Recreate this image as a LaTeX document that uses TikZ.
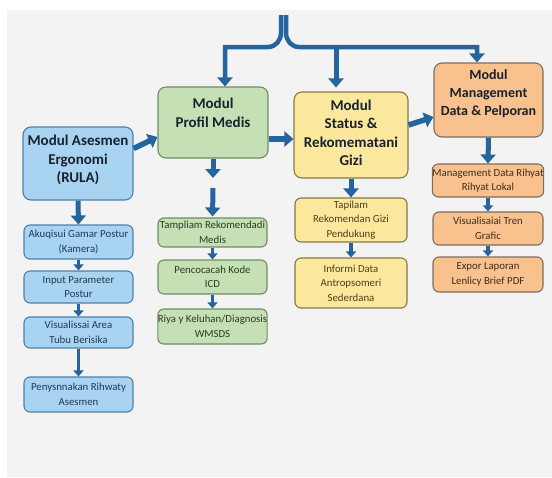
\documentclass[tikz,border=0pt]{standalone}
\usepackage{fontspec}
\setmainfont{Carlito}
\usetikzlibrary{arrows.meta}
\definecolor{bgc}{HTML}{F3F3F3}
\definecolor{arr}{RGB}{38,100,160}
\definecolor{bfill}{HTML}{A8D4F1}
\definecolor{bdraw}{HTML}{4F7FA6}
\definecolor{gfill}{HTML}{C6E0B5}
\definecolor{gdraw}{HTML}{6F8C62}
\definecolor{yfill}{HTML}{FBE89C}
\definecolor{ydraw}{HTML}{85784A}
\definecolor{ofill}{HTML}{F8C18E}
\definecolor{odraw}{HTML}{7D6D60}
\definecolor{titc}{HTML}{18222E}
\definecolor{btxt}{HTML}{203A55}
\definecolor{gtxt}{HTML}{263C24}
\definecolor{ytxt}{HTML}{4E4018}
\definecolor{otxt}{HTML}{402C1E}
\tikzset{
  box/.style={rectangle, rounded corners=6pt, line width=1.1pt, inner sep=0pt, align=center},
  mainbox/.style={box, rounded corners=8pt},
  maintext/.style={font=\fontsize{15}{18.5}\selectfont\bfseries, text=titc, align=center, inner sep=0pt},
  subtext/.style={font=\fontsize{10.8}{14.5}\selectfont},
  bluebox/.style={box, fill=bfill, draw=bdraw, text=btxt, subtext},
  greenbox/.style={box, fill=gfill, draw=gdraw, text=gtxt, subtext},
  yellowbox/.style={box, fill=yfill, draw=ydraw, text=ytxt, subtext},
  orangebox/.style={box, fill=ofill, draw=odraw, text=otxt, subtext},
  thickarr/.style={draw=arr, line width=5pt, -{Triangle[length=9pt,width=15pt]}},
  thinarr/.style={draw=arr, line width=3.2pt, -{Triangle[length=6pt,width=10pt]}},
  conn/.style={draw=arr, line width=4.5pt},
}
\begin{document}
\begin{tikzpicture}[x=1pt,y=-1pt]
\useasboundingbox (0,0) rectangle (552,477);
\fill[white] (0,0) rectangle (552,477);
\fill[bgc] (7,10) rectangle (552,477);

% main boxes
\node[mainbox, fill=bfill, draw=bdraw, minimum width=110pt, minimum height=73pt] (bm) at (78,163.5) {};
\node[maintext] (bmt) at (78,160) {Modul Asesmen\\Ergonomi\\(RULA)};
\node[mainbox, fill=gfill, draw=gdraw, minimum width=110pt, minimum height=71pt] (gm) at (213,122.5) {};
\node[maintext] (gmt) at (213,113) {Modul\\Profil Medis};
\node[mainbox, fill=yfill, draw=ydraw, minimum width=114pt, minimum height=86pt] (ym) at (351,135) {};
\node[maintext] (ymt) at (351,133) {Modul\\Status \&\\Rekomematani\\Gizi};
\node[mainbox, fill=ofill, draw=odraw, minimum width=109pt, minimum height=74pt] (om) at (488.5,100) {};
\node[maintext, font=\fontsize{14}{18}\selectfont\bfseries] (omt) at (488.5,94) {Modul\\Management\\Data \& Pelporan};

% blue sub boxes
\node[bluebox, minimum width=109pt, minimum height=34pt] (bs1) at (78.5,242) {Akuqisui Gamar Postur\\(Kamera)};
\node[bluebox, minimum width=109pt, minimum height=32pt] (bs2) at (78.5,287) {Input Parameter\\Postur};
\node[bluebox, minimum width=109pt, minimum height=31pt] (bs3) at (78.5,332.5) {Visualissai Area\\Tubu Berisika};
\node[bluebox, minimum width=109pt, minimum height=35pt] (bs4) at (78.5,394.5) {Penysnnakan Rihwaty\\Asesmen};

% green sub boxes
\node[greenbox, minimum width=109pt, minimum height=29pt] (gs1) at (212.5,232.5) {Tampliam Rekomendadi\\Medis};
\node[greenbox, minimum width=109pt, minimum height=34pt] (gs2) at (212.5,277) {Pencocacah Kode\\ICD};
\node[greenbox, minimum width=109pt, minimum height=35pt] (gs3) at (212.5,326.5) {Riya y Keluhan/Diagnosis\\WMSDS};

% yellow sub boxes
\node[yellowbox, minimum width=112pt, minimum height=44pt] (ys1) at (351,220) {Tapilam\\Rekomendan Gizi\\Pendukung};
\node[yellowbox, minimum width=112pt, minimum height=50pt] (ys2) at (351,283) {Informi Data\\Antropsomeri\\Sederdana};

% orange sub boxes
\node[orangebox, minimum width=110pt, minimum height=33pt] (os1) at (488,180.5) {Management Data Rihyat\\Rihyat Lokal};
\node[orangebox, minimum width=110pt, minimum height=33pt] (os2) at (488,228.5) {Visualisaiai Tren\\Grafic};
\node[orangebox, minimum width=110pt, minimum height=35pt] (os3) at (488,274.5) {Expor Laporan\\Lenlicy Brief PDF};

% top connector
\coordinate (topl) at (281,15);
\coordinate (topr) at (286,15);
\coordinate (mid) at (336,47);
\draw[conn, -{Triangle[length=9pt,width=15pt]}] (topl) -- (281,33) to[out=-90,in=0] (268,47) -- (225,47) -- (225,0 |- gm.north);
\draw[conn, -{Triangle[length=9pt,width=15pt]}] (topr) -- (286,33) to[out=-90,in=180] (299,47) -- (477,47) -- (477,0 |- om.north);
\draw[thickarr, shorten >=4pt] (mid) -- (mid |- ym.north);

% main horizontal/diagonal arrows
\draw[thickarr, line width=5.5pt] ([yshift=15pt]bm.east) -- ([yshift=-14.5pt]gm.west);
\draw[thickarr, line width=5.5pt] ([yshift=-16.5pt]gm.east) -- ([yshift=-4pt]ym.west);
\draw[thickarr, line width=5.5pt] ([yshift=10pt]ym.east) -- ([yshift=-17pt]om.west);

% blue column
\draw[thickarr] (bm.south) -- (bs1.north);
\draw[thinarr] (bs1.south) -- (bs2.north);
\draw[thinarr] (bs2.south) -- (bs3.north);
\draw[thinarr] (bs3.south) -- (bs4.north);

% green column
\coordinate (g1) at (213,178);
\coordinate (g2) at (213,188);
\draw[thickarr] (gm.south) -- (g1);
\draw[thickarr, shorten >=1pt] (g2) -- (gs1.north);
\draw[thinarr] (gs1.south) -- (gs2.north);
\draw[thinarr] (gs2.south) -- (gs3.north);

% yellow column
\draw[thickarr] (ym.south) -- (ys1.north);
\draw[thinarr] (ys1.south) -- (ys2.north);

% orange column
\draw[thickarr] (om.south) -- (os1.north);
\draw[thinarr] (os1.south) -- (os2.north);
\draw[thinarr] (os2.south) -- (os3.north);
\end{tikzpicture}
\end{document}
